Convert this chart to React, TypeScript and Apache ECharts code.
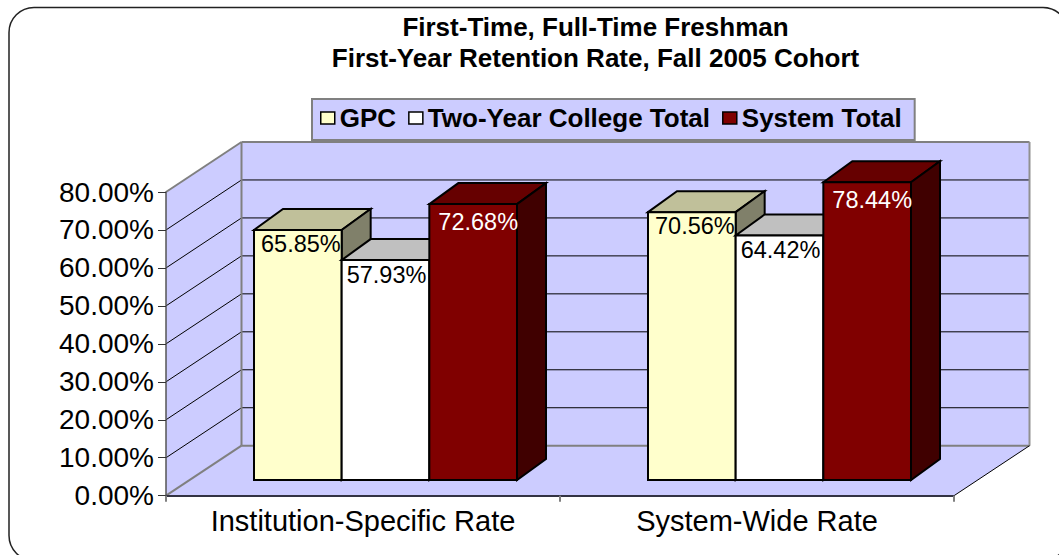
import React, { useEffect, useRef } from "react";
import * as echarts from "echarts";

const categories = ["Institution-Specific Rate", "System-Wide Rate"];
const seriesNames = ["GPC", "Two-Year College Total", "System Total"];
const gpcValues = [65.85, 70.56];
const twoYearValues = [57.93, 64.42];
const systemValues = [72.68, 78.44];
const yTicks = [0, 10, 20, 30, 40, 50, 60, 70, 80];
const titleLines = ["First-Time, Full-Time Freshman", "First-Year Retention Rate, Fall 2005 Cohort"];

const FONT = "'Liberation Sans', Arial, sans-serif";
const WALL = "#ccccff";
const EDGE = "#808080";
// layout of the pseudo-3D box
const GRID = { left: 166, right: 954, top: 192, bottom: 495.7 };
const DEPTH = { x: 75.5, y: 50 };
const BAR_FRONT = { x: 22.5, y: 15.7 };
const BAR_DEPTH = { x: 29, y: 21 };
const BAR_RATIO = 0.2225;

const palettes = [
  { front: "#ffffcc", top: "#c0c09a", side: "#80806a", text: "#000000", dx: 3, dy: 14 },
  { front: "#ffffff", top: "#c0c0c0", side: "#808080", text: "#000000", dx: 1, dy: 15 },
  { front: "#800000", top: "#660000", side: "#400000", text: "#ffffff", dx: 5, dy: 18 },
];

const poly = (points: number[][], fill: string, stroke?: string, lineWidth = 2) => ({
  type: "polygon",
  shape: { points },
  style: { fill, stroke: stroke ?? "none", lineWidth, lineJoin: "miter" },
});

const line = (x1: number, y1: number, x2: number, y2: number, stroke: string, lineWidth = 1) => ({
  type: "line",
  shape: { x1, y1, x2, y2 },
  style: { stroke, lineWidth },
});

const wallRender = (_p: any, api: any) => {
  const x0 = GRID.left;
  const x1 = GRID.right;
  const y0 = api.coord([0, 0])[1];
  const yTop = api.coord([0, yTicks[yTicks.length - 1]])[1];
  const bx0 = x0 + DEPTH.x;
  const bx1 = x1 + DEPTH.x;
  const d = DEPTH.y;
  return {
    type: "group",
    children: [
      poly([[x0, yTop], [bx0, yTop - d], [bx0, y0 - d], [x0, y0]], WALL),
      poly([[bx0, yTop - d], [bx1, yTop - d], [bx1, y0 - d], [bx0, y0 - d]], WALL),
      poly([[x0, y0], [bx0, y0 - d], [bx1, y0 - d], [x1, y0]], WALL),
    ],
  };
};

const gridRender = (_p: any, api: any) => {
  const v = api.value(0);
  const y = api.coord([0, v])[1];
  const x0 = GRID.left;
  const bx0 = x0 + DEPTH.x;
  const bx1 = GRID.right + DEPTH.x;
  const top = v === yTicks[yTicks.length - 1];
  const bottom = v === 0;
  const color = top || bottom ? EDGE : "#000000";
  const w = top || bottom ? 2 : 1;
  return {
    type: "group",
    children: [
      line(x0, y, bx0, y - DEPTH.y, color, w),
      line(bx0, y - DEPTH.y, bx1, y - DEPTH.y, color, w),
    ],
  };
};

const edgeRender = (_p: any, api: any) => {
  const y0 = api.coord([0, 0])[1];
  const yTop = api.coord([0, yTicks[yTicks.length - 1]])[1];
  const bx0 = GRID.left + DEPTH.x;
  const bx1 = GRID.right + DEPTH.x;
  return {
    type: "group",
    children: [
      line(bx0, yTop - DEPTH.y, bx0, y0 - DEPTH.y, EDGE, 2),
      line(bx1, yTop - DEPTH.y, bx1, y0 - DEPTH.y, "#909090", 2),
      line(GRID.right, y0, bx1, y0 - DEPTH.y, "#000000", 1),
    ],
  };
};

const barRender = (s: number) => (_p: any, api: any) => {
  const pal = palettes[s];
  const idx = api.value(0);
  const val = api.value(1);
  const [cx, yv] = api.coord([idx, val]);
  const y0 = api.coord([idx, 0])[1];
  const band = api.size([1, 0])[0];
  const w = band * BAR_RATIO;
  const x1 = cx + BAR_FRONT.x + (s - 1.5) * w;
  const x2 = x1 + w;
  const yT = yv - BAR_FRONT.y;
  const yB = y0 - BAR_FRONT.y;
  const dx = BAR_DEPTH.x;
  const dy = BAR_DEPTH.y;
  return {
    type: "group",
    children: [
      poly([[x1, yT], [x1 + dx, yT - dy], [x2 + dx, yT - dy], [x2, yT]], pal.top, "#000000"),
      poly([[x2, yT], [x2 + dx, yT - dy], [x2 + dx, yB - dy], [x2, yB]], pal.side, "#000000"),
      poly([[x1, yT], [x2, yT], [x2, yB], [x1, yB]], pal.front, "#000000"),
      {
        type: "text",
        x: (x1 + x2) / 2 + pal.dx,
        y: yT + pal.dy,
        z2: 20,
        style: {
          text: val.toFixed(2) + "%",
          fill: pal.text,
          font: `23.5px ${FONT}`,
          align: "center",
          verticalAlign: "middle",
        },
      },
    ],
  };
};

const barSeries = [gpcValues, twoYearValues, systemValues].map((vals, s) => ({
  type: "custom",
  name: seriesNames[s],
  coordinateSystem: "cartesian2d",
  clip: false,
  z: 5,
  itemStyle: { color: palettes[s].front },
  renderItem: barRender(s),
  data: vals.map((v, i) => [i, v]),
}));

export default function App() {
  const ref = useRef<HTMLDivElement>(null);
  useEffect(() => {
    const chart = echarts.init(ref.current!, undefined, { renderer: "svg" });
    chart.setOption({
      animation: false,
      backgroundColor: "#ffffff",
      textStyle: { fontFamily: FONT },
      title: {
        text: titleLines.join("\n"),
        left: 590.5,
        top: 6,
        textAlign: "center",
        textStyle: { fontFamily: FONT, fontSize: 26, fontWeight: "bold", lineHeight: 31, color: "#000000" },
      },
      legend: {
        left: 312,
        top: 99,
        itemWidth: 14,
        itemHeight: 12,
        itemGap: 12,
        padding: [6, 13, 9, 8],
        backgroundColor: WALL,
        borderColor: EDGE,
        borderWidth: 2,
        icon: "rect",
        selectedMode: false,
        textStyle: { fontFamily: FONT, fontSize: 26, fontWeight: "bold", color: "#000000" },
        data: seriesNames.map((name, s) => ({
          name,
          icon: "rect",
          itemStyle: { color: palettes[s].front, borderColor: "#000000", borderWidth: 1.5 },
        })),
      },
      grid: {
        left: GRID.left,
        top: GRID.top,
        width: GRID.right - GRID.left,
        height: GRID.bottom - GRID.top,
        containLabel: false,
      },
      xAxis: {
        type: "category",
        data: categories,
        z: 10,
        axisLine: { lineStyle: { color: "#333344", width: 2 } },
        axisTick: { show: true, alignWithLabel: false, length: 6, lineStyle: { color: EDGE, width: 2 } },
        axisLabel: { fontFamily: FONT, fontSize: 29, color: "#000000", margin: 11, interval: 0, hideOverlap: false },
      },
      yAxis: {
        type: "value",
        min: 0,
        max: 80,
        interval: 10,
        z: 10,
        splitLine: { show: false },
        axisLine: { show: true, lineStyle: { color: "#555555", width: 1.5 } },
        axisTick: { show: true, length: 8, lineStyle: { color: "#333333", width: 1 } },
        axisLabel: {
          fontFamily: FONT,
          fontSize: 28,
          color: "#000000",
          margin: 12,
          formatter: (v: number) => v.toFixed(2) + "%",
        },
      },
      graphic: [
        {
          type: "rect",
          z: -10,
          shape: { x: 9, y: 7.5, width: 1059, height: 553, r: 25 },
          style: { fill: "#ffffff", stroke: "#222222", lineWidth: 1.5 },
        },
      ],
      series: [
        { type: "custom", coordinateSystem: "cartesian2d", clip: false, z: 2, silent: true, renderItem: wallRender, data: [[0]] },
        { type: "custom", coordinateSystem: "cartesian2d", clip: false, z: 3, silent: true, renderItem: gridRender, data: yTicks.map((t) => [t]) },
        { type: "custom", coordinateSystem: "cartesian2d", clip: false, z: 4, silent: true, renderItem: edgeRender, data: [[0]] },
        ...barSeries,
      ],
    });
    return () => chart.dispose();
  }, []);
  return <div ref={ref} style={{ position: "absolute", left: 0, top: 0, width: 1059, height: 555 }} />;
}
